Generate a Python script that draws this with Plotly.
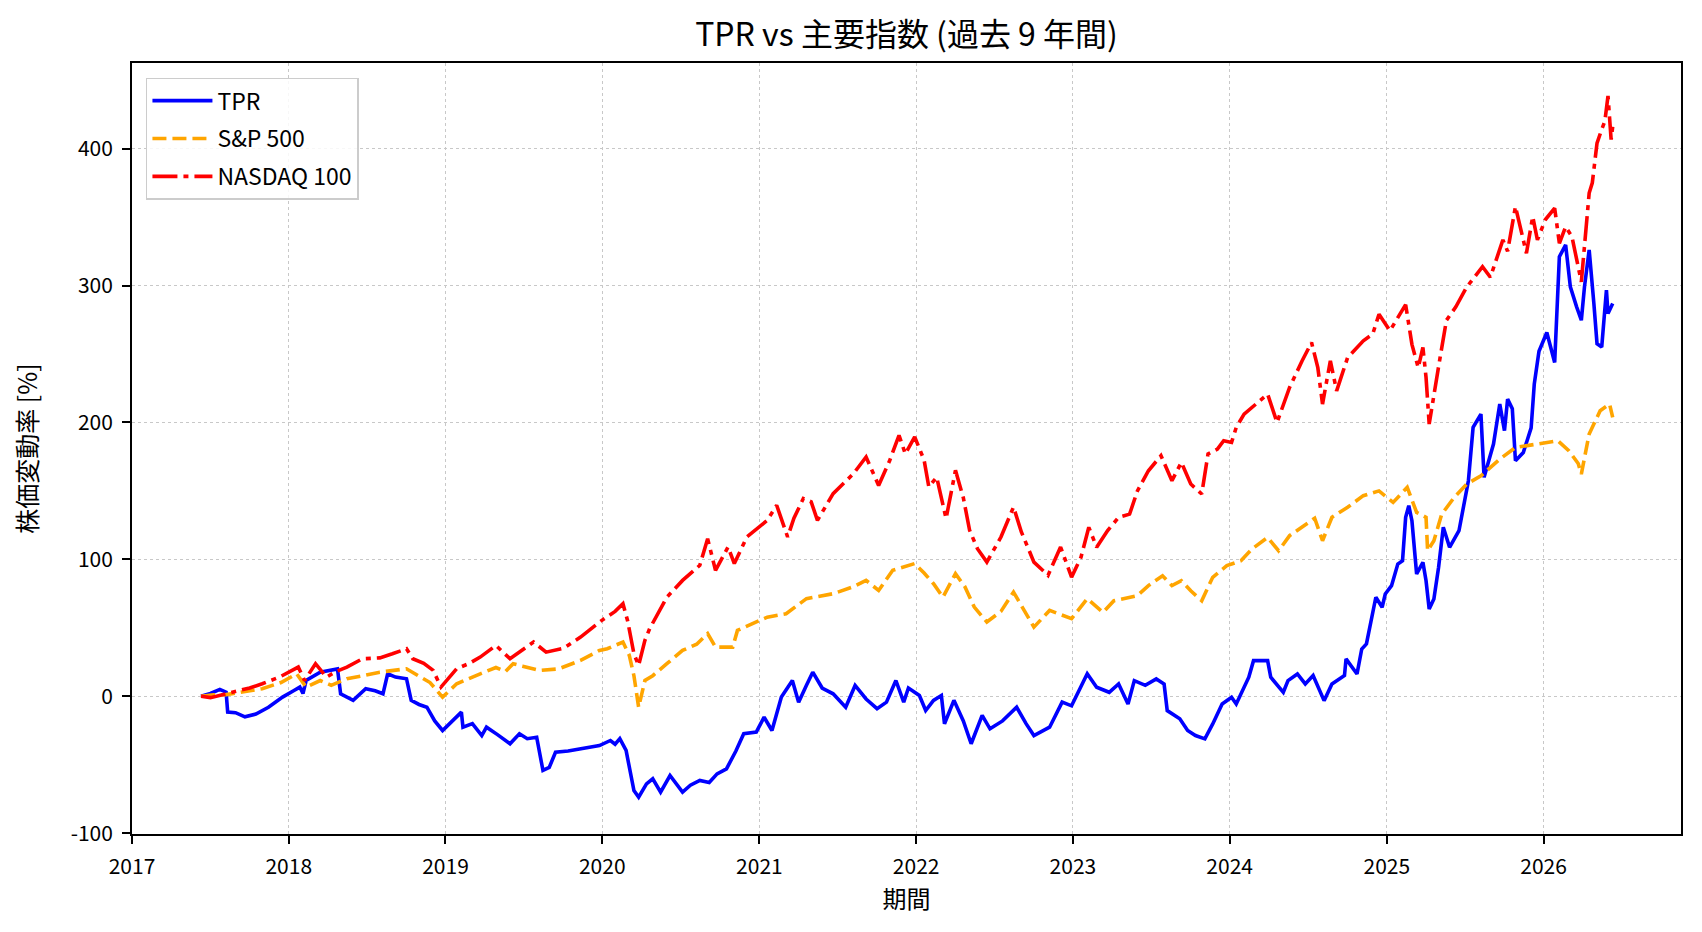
import pandas as pd
import plotly.graph_objects as go

# ---- data (decimal year, % change) ----
tpr_years = [2017.44, 2017.50, 2017.56, 2017.60, 2017.61, 2017.66, 2017.72, 2017.79, 2017.87, 2017.96,
             2018.03, 2018.07, 2018.09, 2018.11, 2018.20, 2018.31, 2018.33, 2018.41, 2018.49, 2018.55,
             2018.60, 2018.63, 2018.68, 2018.75, 2018.78, 2018.83, 2018.88, 2018.93, 2018.98, 2019.05,
             2019.10, 2019.11, 2019.17, 2019.23, 2019.26, 2019.33, 2019.41, 2019.47, 2019.52, 2019.58,
             2019.62, 2019.66, 2019.70, 2019.78, 2019.86, 2019.93, 2019.98, 2020.05, 2020.08, 2020.11,
             2020.15, 2020.20, 2020.23, 2020.28, 2020.32, 2020.37, 2020.43, 2020.51, 2020.56, 2020.62,
             2020.68, 2020.73, 2020.79, 2020.85, 2020.90, 2020.98, 2021.03, 2021.08, 2021.14, 2021.21,
             2021.25, 2021.30, 2021.34, 2021.40, 2021.47, 2021.55, 2021.61, 2021.68, 2021.75, 2021.81,
             2021.87, 2021.92, 2021.95, 2022.02, 2022.06, 2022.11, 2022.16, 2022.18, 2022.24, 2022.30,
             2022.35, 2022.42, 2022.47, 2022.55, 2022.64, 2022.70, 2022.75, 2022.85, 2022.93, 2022.99,
             2023.09, 2023.15, 2023.23, 2023.29, 2023.35, 2023.39, 2023.46, 2023.53, 2023.58, 2023.60,
             2023.68, 2023.73, 2023.78, 2023.84, 2023.89, 2023.95, 2024.01, 2024.04, 2024.12, 2024.15,
             2024.24, 2024.26, 2024.34, 2024.37, 2024.43, 2024.48, 2024.53, 2024.60, 2024.65, 2024.73,
             2024.74, 2024.81, 2024.84, 2024.87, 2024.90, 2024.93, 2024.97, 2024.99, 2025.03, 2025.07,
             2025.10, 2025.12, 2025.14, 2025.16, 2025.19, 2025.23, 2025.25, 2025.27, 2025.30, 2025.33,
             2025.36, 2025.40, 2025.46, 2025.48, 2025.52, 2025.55, 2025.60, 2025.62, 2025.68, 2025.72,
             2025.75, 2025.77, 2025.80, 2025.82, 2025.87, 2025.92, 2025.94, 2025.97, 2026.02, 2026.07,
             2026.10, 2026.14, 2026.17, 2026.21, 2026.24, 2026.26, 2026.29, 2026.32, 2026.34, 2026.37,
             2026.40, 2026.41, 2026.44]
tpr_values = [0, 2, 5, 3, -11.6, -12, -15, -13, -8, -0.6,
              4, 6.7, 2, 11.5, 17.6, 20, 1.8, -3, 5.5, 4,
              1.8, 16.4, 14, 12.8, -3, -6, -8, -18, -25, -17.7,
              -11.6, -22.6, -20, -28.7, -22.6, -28, -34.7, -27.4, -31, -29.9,
              -54.2, -52, -40.9, -40, -38.4, -37, -36, -32.3, -35, -31,
              -39.6, -68.9, -73.7, -64, -60.3, -70, -57.9, -70, -65, -61.5,
              -63, -56.7, -53, -40, -27.4, -26.2, -15.3, -25, -0.6, 11.5,
              -4.3, 8, 17.6, 6, 1.8, -8, 7.9, -2, -9.1, -4.3,
              11.5, -4.3, 6, 0.6, -10.4, -3, 0.6, -20.1, -3, -18,
              -34.7, -14, -23.8, -18, -8, -20, -28.7, -22.6, -4.3, -7,
              16.4, 6.6, 2.9, 9, -5.6, 11.4, 8, 12.7, 9, -10.5,
              -16.5, -25, -28.7, -31.1, -20.2, -5.6, -0.7, -5.6, 13.9, 26,
              26, 13.9, 2.9, 11.4, 16.3, 9, 15.1, -3.2, 9, 15.1,
              27.3, 16.3, 34.5, 38.2, 54, 72.3, 65, 74.7, 80.8, 96.6,
              99, 130.7, 139.2, 128.2, 89.3, 97.8, 84.4, 63.7, 71, 94.2,
              123.4, 108.8, 120.9, 133.1, 157.4, 196.4, 206.1, 159.9, 184.2, 213.4,
              194, 217, 210, 172, 178, 196, 228, 252, 265.7, 243.8,
              321, 329.6, 299, 284.4, 274.6, 299, 326, 286.8, 257.5, 255,
              296.6, 279.5, 286.8]

sp_years = [2017.44, 2017.52, 2017.60, 2017.70, 2017.83, 2017.95, 2018.05, 2018.11, 2018.20, 2018.27,
            2018.37, 2018.47, 2018.58, 2018.75, 2018.84, 2018.90, 2018.98, 2019.07, 2019.22, 2019.32,
            2019.38, 2019.43, 2019.49, 2019.60, 2019.72, 2019.86, 2019.98, 2020.03, 2020.13, 2020.17,
            2020.20, 2020.23, 2020.27, 2020.32, 2020.41, 2020.51, 2020.60, 2020.67, 2020.72, 2020.83,
            2020.86, 2021.05, 2021.17, 2021.30, 2021.47, 2021.60, 2021.68, 2021.76, 2021.85, 2021.99,
            2022.05, 2022.11, 2022.17, 2022.25, 2022.31, 2022.37, 2022.45, 2022.54, 2022.62, 2022.68,
            2022.75, 2022.85, 2022.92, 2022.99, 2023.09, 2023.19, 2023.26, 2023.41, 2023.48, 2023.57,
            2023.63, 2023.69, 2023.75, 2023.82, 2023.89, 2023.98, 2024.07, 2024.14, 2024.24, 2024.31,
            2024.38, 2024.51, 2024.54, 2024.59, 2024.65, 2024.75, 2024.85, 2024.95, 2025.04, 2025.13,
            2025.19, 2025.25, 2025.26, 2025.30, 2025.35, 2025.43, 2025.51, 2025.60, 2025.72, 2025.82,
            2025.97, 2026.09, 2026.16, 2026.22, 2026.24, 2026.29, 2026.36, 2026.42, 2026.44]
sp_values = [0, 1, 1.2, 3, 5.5, 10, 16.4, 6.7, 11.5, 8,
             12.8, 15, 17.6, 20.1, 14, 10, -0.6, 9.1, 16.4, 21,
             18, 23.8, 22, 18.9, 20, 26.2, 33.5, 34.7, 39.6, 30,
             15, -8, 11.5, 15, 23.8, 33.5, 38, 45.7, 35.9, 35.9,
             48.1, 57.8, 60.3, 71.3, 74.9, 80, 84.6, 77.3, 92, 96.9,
             90, 82.2, 72.4, 89.5, 80, 65.1, 54.2, 62, 76.1, 64,
             50.5, 62.7, 60, 56.7, 71.3, 61.3, 69.8, 73.5, 80.8, 88,
             80.8, 84.4, 77, 69.8, 86.9, 95.4, 99, 107.5, 116, 106.3,
             117.3, 128.2, 130, 113.6, 130.7, 138, 146.5, 150, 141.6, 152.6,
             134.3, 130.7, 106.3, 113.6, 133, 145.3, 155, 161, 173.2, 181.7,
             184.2, 186.6, 179.3, 170, 162.3, 191.5, 208.5, 213.4, 203.7]

ndx_years = [2017.44, 2017.50, 2017.64, 2017.75, 2017.83, 2017.94, 2018.06, 2018.10, 2018.17, 2018.24,
             2018.30, 2018.37, 2018.47, 2018.58, 2018.66, 2018.75, 2018.79, 2018.86, 2018.92, 2018.97,
             2019.07, 2019.15, 2019.22, 2019.32, 2019.41, 2019.50, 2019.56, 2019.64, 2019.75, 2019.86,
             2019.98, 2020.08, 2020.13, 2020.16, 2020.20, 2020.23, 2020.27, 2020.30, 2020.41, 2020.51,
             2020.62, 2020.67, 2020.72, 2020.80, 2020.84, 2020.92, 2021.05, 2021.11, 2021.18, 2021.22,
             2021.28, 2021.33, 2021.37, 2021.47, 2021.60, 2021.68, 2021.76, 2021.83, 2021.89, 2021.93,
             2021.99, 2022.05, 2022.08, 2022.13, 2022.19, 2022.25, 2022.30, 2022.34, 2022.39, 2022.45,
             2022.54, 2022.62, 2022.67, 2022.75, 2022.84, 2022.92, 2022.99, 2023.05, 2023.10, 2023.15,
             2023.22, 2023.29, 2023.36, 2023.41, 2023.48, 2023.56, 2023.63, 2023.69, 2023.75, 2023.82,
             2023.86, 2023.92, 2023.96, 2024.01, 2024.04, 2024.09, 2024.17, 2024.24, 2024.30, 2024.38,
             2024.46, 2024.52, 2024.56, 2024.59, 2024.64, 2024.68, 2024.75, 2024.85, 2024.91, 2024.95,
             2025.02, 2025.12, 2025.16, 2025.20, 2025.23, 2025.25, 2025.27, 2025.30, 2025.34, 2025.38,
             2025.44, 2025.51, 2025.61, 2025.66, 2025.74, 2025.77, 2025.82, 2025.89, 2025.93, 2025.96,
             2026.01, 2026.07, 2026.10, 2026.14, 2026.18, 2026.24, 2026.26, 2026.29, 2026.31, 2026.34,
             2026.37, 2026.39, 2026.41, 2026.43, 2026.44]
ndx_values = [0, -1, 3, 6, 9.1, 14, 21.3, 11.5, 23.8, 14,
              18, 21.3, 27.4, 28, 31, 34.7, 27.4, 24, 18.9, 6.7,
              20.1, 24, 28.6, 37.1, 27.4, 35, 39.6, 32.2, 35, 43.2,
              54.2, 62, 67.6, 55, 31, 22.5, 40.8, 49.3, 72.4, 84.6,
              95.6, 115, 92, 109, 96.9, 116.3, 128.5, 139.5, 116.3, 130,
              144.4, 142, 128.5, 148, 162.6, 174.8, 154, 172, 190.6, 177,
              189.4, 172.4, 152.9, 160, 129.8, 165, 145, 121.2, 107.8, 98,
              116.3, 138.2, 120, 98, 88.3, 109, 87, 101.5, 123.4, 108.8,
              121, 130.7, 133, 150, 164.7, 175.7, 157.4, 170.8, 155, 147.7,
              177, 180.5, 186.6, 185.4, 196.4, 206, 213.4, 220.7, 200, 225.5,
              245, 258.4, 240, 213.4, 245, 223, 247.4, 259.6, 264.5, 279,
              267, 286, 257, 240, 254.7, 232.8, 198.8, 220.7, 247.7, 274.6,
              284.4, 299, 313.7, 306, 333.3, 325, 357.7, 323.5, 350.4, 333.3,
              348, 356.5, 330.8, 343, 335.7, 302.7, 328, 367.5, 375, 404,
              414, 420, 438.4, 406.6, 416]

series_names = ["TPR", "S&P 500", "NASDAQ 100"]
year_ticks = list(range(2017, 2027))
y_ticks = [-100, 0, 100, 200, 300, 400]


def to_dates(years):
    base = pd.Timestamp("2017-01-01")
    return [base + pd.to_timedelta((y - 2017) * 365.25, unit="D") for y in years]


FONT = "Noto Sans CJK JP"
LW = 3.6

fig = go.Figure()
fig.add_trace(go.Scatter(x=to_dates(tpr_years), y=tpr_values, mode="lines", name=series_names[0],
                         legendgroup="a", line=dict(color="#0000ff", width=LW)))
fig.add_trace(go.Scatter(x=to_dates(sp_years), y=sp_values, mode="lines", name=series_names[1],
                         legendgroup="b", line=dict(color="#ffa500", width=LW, dash="14px,6px")))
fig.add_trace(go.Scatter(x=to_dates(ndx_years), y=ndx_values, mode="lines", name=series_names[2],
                         legendgroup="c", line=dict(color="#ff0000", width=LW, dash="25px,6px,5px,6px")))

axis_common = dict(
    showline=True, linecolor="black", linewidth=1.8, mirror=True,
    ticks="outside", ticklen=8, tickwidth=1.8, tickcolor="black",
    showgrid=True, gridcolor="#c8c8c8", gridwidth=1.3, griddash="dot",
    zeroline=False, tickfont=dict(family=FONT, size=21, color="black"),
    ticklabelstandoff=5,
)

fig.update_layout(
    width=1702, height=932,
    margin=dict(l=132, r=21, t=63, b=98),
    paper_bgcolor="white", plot_bgcolor="white",
    font=dict(family=FONT, color="black"),
    title=dict(text="TPR vs 主要指数 (過去 9 年間)", x=0.5 * (132 + 1681) / 1702, xanchor="center",
               y=1 - 35 / 932, yanchor="middle", font=dict(family=FONT, size=32, color="black")),
    xaxis=dict(axis_common, range=["2017-01-01", "2026-11-17"],
               tickvals=[pd.Timestamp(f"{y}-01-01") for y in year_ticks],
               ticktext=[str(y) for y in year_ticks],
               title=dict(text="期間", font=dict(family=FONT, size=24), standoff=12)),
    yaxis=dict(axis_common, range=[-100.6, 462.5], tickvals=y_ticks,
               ticktext=[str(v) for v in y_ticks],
               title=dict(text="株価変動率 [%]", font=dict(family=FONT, size=25), standoff=26)),
    legend=dict(x=0.009, y=0.981, xanchor="left", yanchor="top",
                bgcolor="rgba(255,255,255,0.85)", bordercolor="#cccccc", borderwidth=1.5,
                font=dict(family=FONT, size=23, color="black"), itemwidth=60,
                traceorder="grouped", tracegroupgap=5),
    showlegend=True,
)

fig.write_html("out.html")
